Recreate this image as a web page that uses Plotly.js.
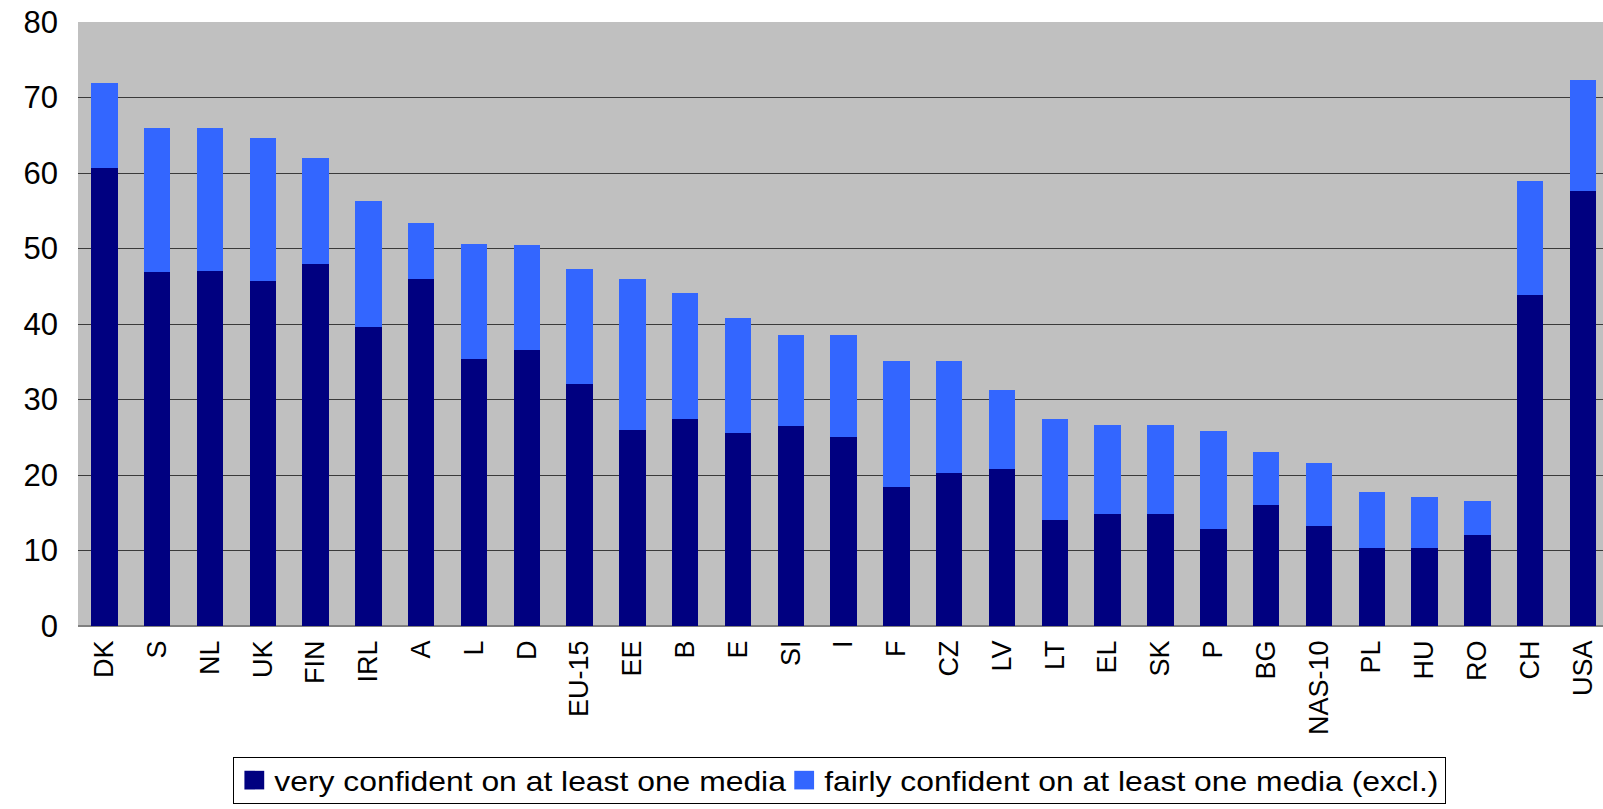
<!DOCTYPE html>
<html>
<head>
<meta charset="utf-8">
<script src="https://cdn.plot.ly/plotly-3.0.1.min.js"></script>
<style>
  html, body { margin: 0; padding: 0; background: #ffffff; }
  #chart { width: 1603px; height: 809px; }
</style>
</head>
<body>
<div id="chart"></div>
<script>
const categories = ["DK","S","NL","UK","FIN","IRL","A","L","D","EU-15","EE","B","E","SI","I","F","CZ","LV","LT","EL","SK","P","BG","NAS-10","PL","HU","RO","CH","USA"];
const veryConfident = [60.6,46.9,47.0,45.7,47.9,39.6,45.9,35.3,36.5,32.0,25.9,27.4,25.5,26.5,25.1,18.4,20.2,20.8,14.1,14.8,14.8,12.8,16.0,13.3,10.3,10.3,12.1,43.8,57.6];
const totalConfident = [71.9,65.9,65.9,64.6,62.0,56.3,53.4,50.6,50.4,47.3,45.9,44.1,40.8,38.5,38.5,35.1,35.1,31.2,27.4,26.6,26.6,25.8,23.0,21.6,17.7,17.1,16.5,58.9,72.3];
const fairlyConfident = totalConfident.map((t, i) => +(t - veryConfident[i]).toFixed(1));
const seriesNames = ["very confident on at least one media", "fairly confident on at least one media (excl.)"];
const yTicks = [0,10,20,30,40,50,60,70,80];

const traces = [
  { type: 'bar', name: seriesNames[0], x: categories, y: veryConfident,
    marker: { color: '#000080' }, hoverinfo: 'x+y' },
  { type: 'bar', name: seriesNames[1], x: categories, y: fairlyConfident,
    marker: { color: '#3366ff' }, hoverinfo: 'x+y' }
];

const layout = {
  width: 1603, height: 809,
  margin: { l: 78, r: 0, t: 22, b: 183, pad: 0, autoexpand: false },
  paper_bgcolor: '#ffffff',
  plot_bgcolor: '#c0c0c0',
  barmode: 'stack',
  bargap: 0.5,
  font: { family: '"Liberation Sans", Arial, sans-serif', color: '#000000' },
  showlegend: true,
  legend: {
    orientation: 'h', x: 0.5, xanchor: 'center', y: -0.217, yanchor: 'top',
    bgcolor: '#ffffff', bordercolor: '#000000', borderwidth: 1,
    font: { size: 27, family: '"Liberation Sans", Arial, sans-serif', color: '#000' },
    itemwidth: 30, traceorder: 'normal'
  },
  xaxis: {
    type: 'category',
    range: [-0.5, 28.38],
    tickangle: -90,
    tickfont: { size: 27 },
    showgrid: false,
    ticks: '',
    ticklabelstandoff: 8,
    showline: false,
    fixedrange: true
  },
  yaxis: {
    range: [0, 80],
    tickvals: yTicks,
    ticktext: yTicks.map(String),
    tickfont: { size: 31 },
    showgrid: true,
    gridcolor: '#3a3a3a',
    gridwidth: 1,
    zeroline: true,
    zerolinecolor: '#808080',
    zerolinewidth: 2,
    ticks: '',
    ticklabelstandoff: 19,
    showline: false,
    fixedrange: true
  }
};

function restyleLegend(gd) {
  try {
    const leg = gd.querySelector('g.legend');
    if (!leg) return;
    const S = 1.18;            // horizontal stretch of the legend text, as in the reference
    const CENTER = 839;        // horizontal centre of the legend box (px)
    const BOXH = 46;           // legend box height (px)
    const bg = leg.querySelector('rect.bg');
    const oldH = bg ? parseFloat(bg.getAttribute('height')) || BOXH : BOXH;
    const dy = (oldH - BOXH) / 2;
    const items = Array.from(leg.querySelectorAll('g.traces'));
    let nextX = null, lastEnd = 0;
    items.forEach((it) => {
      const m = /translate\(\s*([-\d.]+)[ ,]+([-\d.]+)\s*\)/.exec(it.getAttribute('transform') || '');
      const x0 = m ? parseFloat(m[1]) : 0;
      const y0 = m ? parseFloat(m[2]) : 0;
      const t = it.querySelector('text.legendtext');
      let w = 0;
      if (t) {
        w = t.getComputedTextLength();
        t.setAttribute('x', (40 / S).toFixed(3));
        t.setAttribute('transform', 'scale(' + S + ',1)');
      }
      const x = (nextX === null) ? x0 : nextX;
      it.setAttribute('transform', 'translate(' + x + ',' + (y0 - dy) + ')');
      nextX = x + 40 + S * w - 2;
      lastEnd = x + 40 + S * w + 6;
      it.querySelectorAll('.legendpoints path').forEach(p => {
        const tr = p.getAttribute('transform') || '';
        p.setAttribute('transform', tr + ' scale(1.65,1.55)');
      });
    });
    if (bg) { bg.setAttribute('width', lastEnd); bg.setAttribute('height', BOXH); }
    const sb = leg.querySelector('.scrollbox');
    if (sb) {
      const cp = sb.getAttribute('clip-path') || '';
      const mm = /#([^'")]+)/.exec(cp);
      if (mm) {
        const el = document.getElementById(mm[1]);
        if (el) { const r = el.querySelector('rect'); if (r) r.setAttribute('width', lastEnd + 10); }
      }
    }
    const lm = /translate\(\s*([-\d.]+)[ ,]+([-\d.]+)\s*\)/.exec(leg.getAttribute('transform') || '');
    if (lm) leg.setAttribute('transform', 'translate(' + (CENTER - lastEnd / 2) + ',' + lm[2] + ')');
  } catch (e) { /* keep default legend */ }
}

Plotly.newPlot('chart', traces, layout, { displayModeBar: false, staticPlot: true }).then(restyleLegend);
</script>
</body>
</html>
